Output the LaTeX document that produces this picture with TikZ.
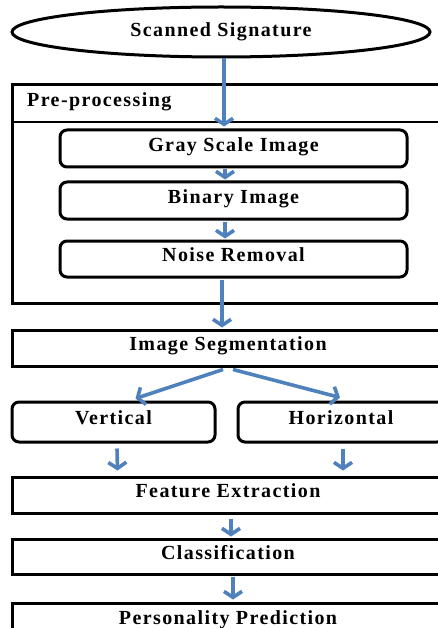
\documentclass[tikz,border=0pt]{standalone}
\usepackage{fontspec}
\setmainfont{Liberation Serif}[LetterSpace=7]
\usepackage{xcolor}
\usepackage{tikz}
\usetikzlibrary{shapes.geometric,arrows.meta}

\definecolor{flowblue}{RGB}{79,129,189}

\begin{document}
\begin{tikzpicture}[x=1pt, y=-1pt,
    font=\fontsize{20}{23}\selectfont\bfseries,
    stage/.style={rectangle, draw, line width=3pt, minimum width=432, minimum height=36, inner sep=0, text height=0.68em, text depth=0.12em},
    substage/.style={stage, rounded corners=7pt},
    flow/.style={draw=flowblue, line width=3.6pt, -{Straight Barb[length=6pt,width=18pt]}}]
        \useasboundingbox (0,0) rectangle (438,628);
        \clip (0,0) rectangle (438,628);

        % Nodes
        \node [ellipse, draw, line width=3pt, minimum width=418, minimum height=50, inner sep=0] (scan) at (221,32) {Scanned Signature};
        \node [stage, minimum height=218] (prebox) at (228,194) {};
        \node [anchor=base west, inner sep=0] (pretitle) at (27,107) {Pre-processing};
        \draw [line width=1.8pt] (prebox.west |- 0,122) -- (prebox.east |- 0,122);
        \node [substage, minimum width=347, minimum height=37] (gray) at (233.5,148.5) {Gray Scale Image};
        \node [substage, minimum width=347, minimum height=37] (binary) at (233.5,200.5) {Binary Image};
        \node [substage, minimum width=347] (noise) at (233.5,259) {Noise Removal};
        \node [stage] (seg) at (228,348) {Image Segmentation};
        \node [substage, minimum width=203, minimum height=40] (vert) at (113.5,422) {Vertical};
        \node [substage, minimum width=206, minimum height=40] (horiz) at (341,422) {Horizontal};
        \node [stage] (feat) at (228,495) {Feature Extraction};
        \node [stage, minimum height=35] (cls) at (228,556.5) {Classification};
        \node [stage, minimum height=37] (pers) at (228,621.5) {Personality Prediction};

        % Arrows
        \path [flow] ([xshift=3]scan.south) -- ([xshift=-9.5,yshift=2]gray.north);
        \path [flow] ([xshift=-8.5,yshift=-1]gray.south) -- ([xshift=-8.5,yshift=1]binary.north);
        \path [flow] ([xshift=-8.5,yshift=-1]binary.south) -- ([xshift=-8.5,yshift=1]noise.north);
        \path [flow] ([xshift=-11.5,yshift=-1]noise.south) -- ([xshift=-6,yshift=1]seg.north);
        \path [flow] ([xshift=-5,yshift=-2]seg.south) -- ([xshift=22,yshift=2]vert.north);
        \path [flow] ([xshift=5,yshift=-2]seg.south) -- ([xshift=-1,yshift=3]horiz.north);
        \path [flow] ([xshift=3.5,yshift=-5]vert.south) -- ([xshift=-110.5,yshift=5]feat.north);
        \path [flow] ([xshift=2,yshift=-5]horiz.south) -- ([xshift=115,yshift=5]feat.north);
        \path [flow] ([xshift=3,yshift=-4]feat.south) -- ([xshift=3,yshift=1]cls.north);
        \path [flow] ([xshift=5,yshift=-1]cls.south) -- ([xshift=5,yshift=2]pers.north);
    \end{tikzpicture}
\end{document}
